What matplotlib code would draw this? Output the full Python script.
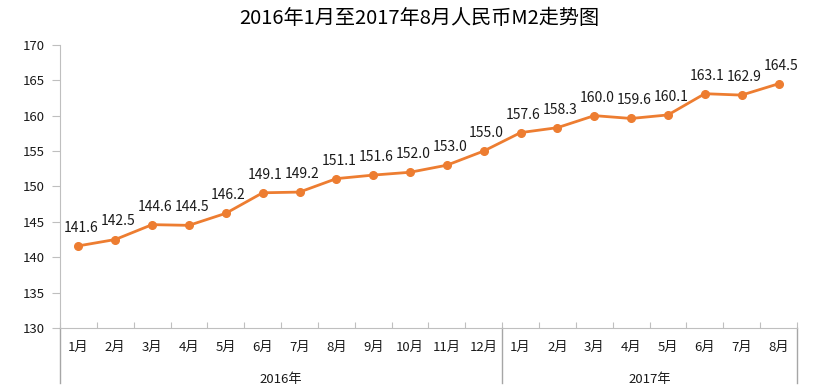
import matplotlib.pyplot as plt
import matplotlib.transforms as mtransforms

plt.rcParams['font.family'] = ['Noto Sans CJK SC', 'DejaVu Sans']

# data
months = ["1月", "2月", "3月", "4月", "5月", "6月", "7月", "8月", "9月", "10月", "11月", "12月",
          "1月", "2月", "3月", "4月", "5月", "6月", "7月", "8月"]
years = ["2016年", "2017年"]
year_counts = [12, 8]
m2 = [141.6, 142.5, 144.6, 144.5, 146.2, 149.1, 149.2, 151.1, 151.6, 152.0, 153.0, 155.0,
      157.6, 158.3, 160.0, 159.6, 160.1, 163.1, 162.9, 164.5]

line_color = "#ED7D31"
axis_color = "#BFBFBF"

fig = plt.figure(figsize=(8.38, 3.9), dpi=100)
ax = fig.add_axes([0.0716, 0.159, 0.8794, 0.726])

x = list(range(len(m2)))
ax.plot(x, m2, color=line_color, lw=2, marker="o", ms=5.5, zorder=3)
for xi, v in zip(x, m2):
    ax.annotate(f"{v:.1f}", (xi, v), xytext=(2, 8), textcoords="offset points",
                ha="center", va="bottom", fontsize=10, color="#1a1a1a")

ax.set_xlim(-0.5, len(m2) - 0.5)
ax.set_ylim(130, 170)
ax.set_yticks(range(130, 171, 5))
ax.tick_params(axis="y", labelsize=9.5, colors="#1a1a1a", length=6, color=axis_color, pad=5)

# category ticks at boundaries, labels in middle
ax.set_xticks([i - 0.5 for i in range(len(m2) + 1)])
ax.set_xticklabels([])
ax.set_xticks(x, minor=True)
ax.set_xticklabels(months, minor=True)
ax.tick_params(axis="x", which="major", direction="in", length=4, color=axis_color)
ax.tick_params(axis="x", which="minor", length=0, labelsize=9.5, colors="#1a1a1a", pad=9)

for s in ["top", "right"]:
    ax.spines[s].set_visible(False)
ax.spines["left"].set_color(axis_color)
ax.spines["bottom"].set_color(axis_color)

# year groups
trans = mtransforms.blended_transform_factory(ax.transData, ax.transAxes)
start = 0
bounds = [-0.5]
for yr, n in zip(years, year_counts):
    mid = start + (n - 1) / 2
    ax.text(mid, -0.183, yr, transform=trans, ha="center", va="center", fontsize=9.5, color="#1a1a1a")
    start += n
    bounds.append(start - 0.5)
for b in bounds:
    ax.plot([b, b], [0, -0.194], transform=trans, color="#A6A6A6", lw=1, clip_on=False)

fig.text(0.5, 0.953, "2016年1月至2017年8月人民币M2走势图", ha="center", va="center",
         fontsize=14.5, color="#000000")

fig.savefig("out.png", dpi=100, facecolor="white")
